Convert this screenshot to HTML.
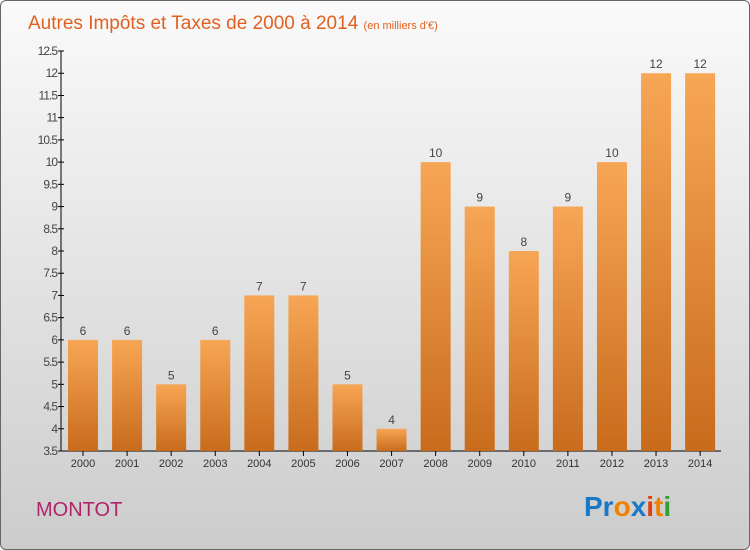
<!DOCTYPE html>
<html><head><meta charset="utf-8"><style>
body{margin:0;width:750px;height:550px;overflow:hidden;font-family:"Liberation Sans",sans-serif}
#wrap{position:absolute;left:0;top:0;width:748px;height:548px;border:1px solid #666;border-radius:6px;background:linear-gradient(#fafafa,#cccccc);overflow:hidden}
</style></head><body>
<div id="wrap">
<svg id="chart" width="750" height="550">
<defs><linearGradient id="bg" x1="0" y1="0" x2="0" y2="1"><stop offset="0" stop-color="#f7a655"/><stop offset="1" stop-color="#c86c1c"/></linearGradient></defs>
<text x="27" y="28" font-size="19" fill="#e06020">Autres Impôts et Taxes de 2000 à 2014 <tspan font-size="11">(en milliers d'€)</tspan></text>
<text x="35" y="515" font-size="20" fill="#b0246a">MONTOT</text>
<g font-size="28" font-weight="bold" font-family="Liberation Sans,sans-serif">
<text x="583" y="515"><tspan fill="#1a78c8">Pr</tspan><tspan fill="#f08000">o</tspan><tspan fill="#1a78c8">x</tspan><tspan fill="#e04010">i</tspan><tspan fill="#f08000">t</tspan><tspan fill="#30a030">i</tspan></text></g>
<g id="axes"></g><g id="bars"></g>
</svg></div>
<script>
const years=["2000","2001","2002","2003","2004","2005","2006","2007","2008","2009","2010","2011","2012","2013","2014"];
const values=[6,6,5,6,7,7,5,4,10,9,8,9,10,12,12];
const yTicks=[3.5,4,4.5,5,5.5,6,6.5,7,7.5,8,8.5,9,9.5,10,10.5,11,11.5,12,12.5];
const NS="http://www.w3.org/2000/svg";
const y=v=>450-(v-3.5)*400/9;
const x=i=>82+i*44.08;
function mk(t,a,p){const e=document.createElementNS(NS,t);for(const k in a)e.setAttribute(k,a[k]);p.appendChild(e);return e;}
const ax=document.getElementById('axes'),bars=document.getElementById('bars');
let l=mk('line',{x1:60,y1:50,x2:60,y2:450,stroke:'#000'},ax);


l=mk('line',{x1:60,y1:450,x2:720,y2:450,stroke:'#000'},ax);


yTicks.forEach(v=>{
 mk('line',{x1:57,y1:y(v),x2:63,y2:y(v),stroke:'#000'},ax);
 const t=mk('text',{x:56,y:y(v)+4,'font-size':12,fill:'#444','text-anchor':'end','letter-spacing':'-1'},ax);
 t.textContent=String(v);
 
 
});
years.forEach((yr,i)=>{
 const cx=x(i);
 mk('line',{x1:cx,y1:450,x2:cx,y2:455,stroke:'#000'},ax);
 const t=mk('text',{x:cx,y:466,'font-size':11,fill:'#333','text-anchor':'middle'},ax);
 t.textContent=yr;
 
 
 const r=mk('rect',{x:cx-15,y:y(values[i]),width:30,height:450-y(values[i]),fill:'url(#bg)'},bars);
 
 
 const v=mk('text',{x:cx,y:y(values[i])-5,'font-size':12,fill:'#444','text-anchor':'middle'},bars);
 v.textContent=values[i];
 
 
});
</script>
</body></html>
